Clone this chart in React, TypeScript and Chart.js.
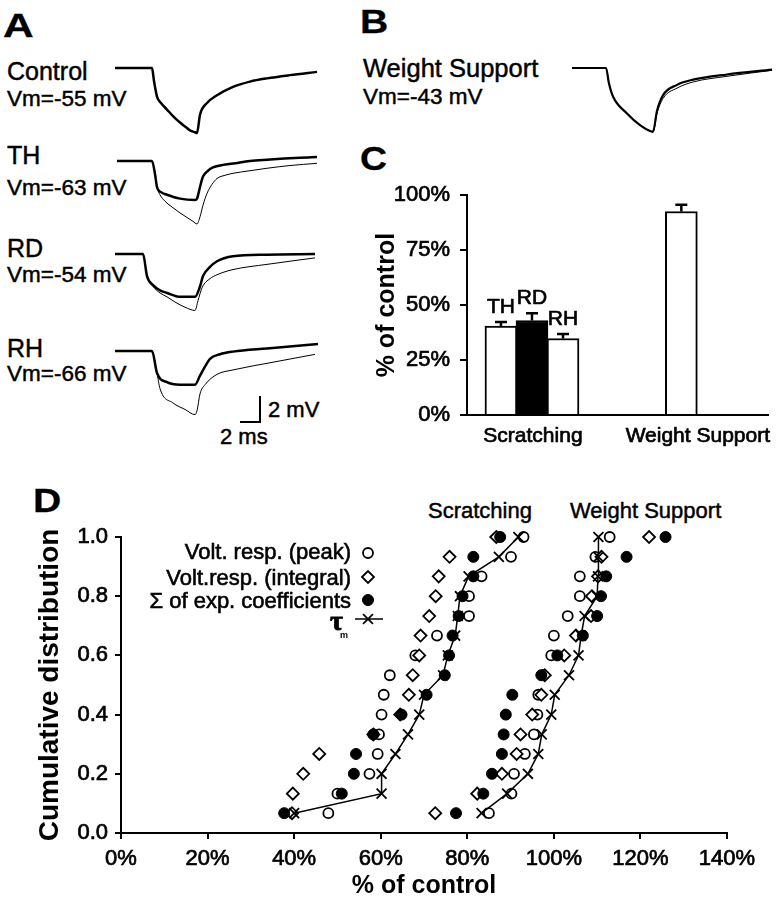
import React, { useEffect, useRef } from 'react';
import { Chart, registerables } from 'chart.js';

Chart.register(...registerables);

const SANS = '"Liberation Sans", Arial, Helvetica, sans-serif';

/* ---------------- A & B : voltage traces (time in ms, mV relative to baseline) ---------------- */
const controlMs = [0, 3.7, 3.9, 4.2, 4.6, 5.2, 5.8, 6.5, 7.0, 7.5, 8.0, 8.2, 8.5, 9.2, 10.2, 11.8, 13.5, 15.2, 17.5, 20.2];
const controlMv = [0, 0, -1.0, -2.2, -2.7, -3.2, -3.7, -4.2, -4.5, -4.8, -4.95, -5.0, -3.6, -2.7, -2.1, -1.45, -1.05, -0.8, -0.55, -0.3];

const thMs = [0, 3.5, 3.8, 4.0, 4.4, 5.0, 6.3, 7.8, 8.0, 8.3, 8.6, 9.1, 9.6, 10.6, 11.6, 13.3, 15.0, 18.3, 20.0];
const thMv = [0, 0, -1.0, -2.0, -2.4, -2.6, -2.9, -3.0, -2.9, -2.0, -1.2, -0.75, -0.5, -0.3, -0.2, 0, 0.1, 0.25, 0.3];
const thCtrlMs = [0, 3.5, 3.8, 4.0, 4.3, 4.8, 5.6, 6.3, 7.0, 7.6, 8.0, 8.3, 8.6, 9.0, 9.5, 10.0, 10.8, 11.6, 13.3, 15.0, 17.3, 20.0];
const thCtrlMv = [0, 0, -1.0, -2.0, -2.6, -3.1, -3.6, -4.0, -4.35, -4.65, -4.85, -4.3, -3.4, -2.5, -1.8, -1.35, -1.1, -0.95, -0.75, -0.56, -0.35, -0.18];

const rdMs = [0, 2.8, 3.2, 3.8, 4.5, 5.2, 6.5, 8.0, 8.5, 8.8, 9.5, 10.2, 11.8, 15.2, 20.0];
const rdMv = [0, 0, -1.7, -2.4, -2.8, -3.0, -3.3, -3.3, -2.5, -1.7, -1.0, -0.56, -0.18, -0.05, 0];
const rdCtrlMs = [0, 2.8, 3.2, 3.8, 4.5, 5.2, 6.0, 7.0, 8.0, 8.3, 8.7, 9.5, 10.2, 11.8, 15.2, 20.0];
const rdCtrlMv = [0, 0, -1.7, -2.5, -3.0, -3.3, -3.7, -4.1, -4.35, -3.6, -2.6, -1.9, -1.6, -1.2, -0.8, -0.3];

const rhMs = [0, 3.7, 4.2, 5.2, 6.5, 8.0, 8.5, 9.0, 9.5, 10.5, 11.8, 15.2, 20.3];
const rhMv = [0, 0, -1.7, -2.4, -2.6, -2.6, -1.9, -1.2, -0.6, -0.25, -0.05, 0.2, 0.54];
const rhCtrlMs = [0, 3.7, 4.2, 4.5, 5.8, 7.0, 8.0, 8.2, 8.5, 9.0, 10.2, 11.8, 15.2, 20.0];
const rhCtrlMv = [0, 0, -1.7, -2.9, -4.0, -4.5, -4.9, -4.6, -3.3, -2.6, -1.8, -1.46, -0.95, -0.26];

const wsMs = [0, 3.4, 3.7, 4.1, 5.5, 6.8, 7.8, 8.1, 8.5, 9.1, 10.5, 12.1, 15.5, 20.0];
const wsMv = [0, 0, -1.2, -2.2, -3.5, -4.4, -4.85, -4.9, -3.3, -2.1, -1.3, -0.9, -0.5, -0.13];
const wsCtrlMv = [0, 0, -1.2, -2.2, -3.5, -4.4, -4.85, -4.95, -3.5, -2.35, -1.55, -1.08, -0.64, -0.18];

const scaleBarMs = 2;
const scaleBarMv = 2;

/* ---------------- C : bar chart ---------------- */
const groups = ['Scratching', 'Weight Support'];
const barNames = ['TH', 'RD', 'RH', 'WS'];
const barGroup = [0, 0, 0, 1];
const barPercent = [40.4, 43.0, 34.8, 92.6];
const barSem = [1.9, 3.3, 2.1, 3.0];

/* ---------------- D : cumulative distributions ---------------- */
const cumLevels = [0.067, 0.133, 0.2, 0.267, 0.333, 0.4, 0.467, 0.533, 0.6, 0.667, 0.733, 0.8, 0.867, 0.933, 1.0];
const seriesNames = ['Volt. resp. (peak)', 'Volt.resp. (integral)', 'Σ of exp. coefficients', 'τm'];

const scrPeak = [47.9, 50.0, 57.4, 59.3, 59.6, 60.2, 60.7, 62.1, 68.0, 73.0, 80.4, 80.4, 83.3, 90.1, 93.0];
const scrInteg = [39.5, 39.7, 42.1, 45.8, 58.3, 64.5, 66.5, 67.4, 68.9, 69.2, 71.2, 72.7, 73.4, 75.9, 86.7];
const scrExp = [37.7, 51.0, 53.8, 54.3, 58.3, 64.8, 70.6, 74.8, 75.8, 76.6, 78.0, 78.9, 81.4, 81.4, 87.6];
const scrTau = [40.0, 60.2, 60.2, 63.4, 66.3, 68.9, 70.0, 74.4, 75.5, 77.2, 77.8, 78.3, 80.3, 87.3, 91.8];

const wsPeak = [85.0, 90.2, 90.8, 93.3, 95.4, 96.2, 96.4, 97.5, 99.4, 100.0, 103.2, 106.0, 106.0, 109.6, 112.9];
const wsInteg = [72.6, 82.3, 88.0, 91.4, 92.3, 95.0, 97.1, 97.9, 102.4, 105.1, 108.6, 108.8, 110.2, 111.0, 122.0];
const wsExp = [77.4, 83.7, 85.7, 88.0, 88.4, 88.9, 90.4, 97.1, 100.8, 106.7, 110.0, 110.9, 112.1, 116.8, 125.8];
const wsTau = [83.3, 89.2, 94.0, 96.4, 97.2, 99.4, 100.2, 103.5, 105.7, 106.3, 107.1, 110.0, 110.2, 110.3, 110.3];

/* ---------------- layout / style constants ---------------- */
const TRACE_T_MAX = 21;
const TRACE_V_MIN = -5.7;
const TRACE_V_MAX = 1;
const TRACE_W = 210;
const TRACE_H = 87;

const C_BOX = { left: 360, top: 172, width: 419, height: 283 };
const C_BAR_POS = [35, 67, 99, 221];
const C_GROUP_POS = [68, 238];
const C_AXIS_LEN = 311;

const D_BOX = { left: 0, top: 460, width: 779, height: 439 };

const TICK_STROKE = { textStrokeColor: '#000', textStrokeWidth: 0.7 };

const MARK = {
  open: { pointStyle: 'circle', radius: 5, fill: '#fff', border: 1.8 },
  diamond: { pointStyle: 'rectRot', radius: 6, fill: '#fff', border: 1.8 },
  filled: { pointStyle: 'circle', radius: 5.5, fill: '#000', border: 1 },
  cross: { pointStyle: 'crossRot', radius: 7, fill: '#000', border: 1.8 },
};

function pts(xs: number[], ys: number[]) {
  return xs.map((x, i) => ({ x, y: ys[i] }));
}

function heavyText(ctx: CanvasRenderingContext2D, text: string, x: number, y: number, w = 0.6) {
  ctx.fillText(text, x, y);
  ctx.lineWidth = w;
  ctx.strokeStyle = '#000';
  ctx.strokeText(text, x, y);
}

function traceConfig(traces: { t: number[]; v: number[]; w: number }[], plugins: any[] = []) {
  return {
    type: 'line',
    data: {
      datasets: traces.map((tr) => ({
        data: pts(tr.t, tr.v),
        borderColor: '#000',
        borderWidth: tr.w,
        pointRadius: 0,
        cubicInterpolationMode: 'monotone',
        fill: false,
        clip: false,
      })),
    },
    options: {
      animation: false,
      responsive: false,
      events: [],
      layout: { padding: 0 },
      scales: {
        x: { type: 'linear', min: 0, max: TRACE_T_MAX, display: false },
        y: { type: 'linear', min: TRACE_V_MIN, max: TRACE_V_MAX, display: false },
      },
      plugins: { legend: { display: false }, tooltip: { enabled: false } },
    },
    plugins,
  };
}

const scaleBarPlugin = {
  id: 'scaleBar',
  afterDatasetsDraw(chart: any) {
    const { ctx } = chart;
    const { x, y } = chart.scales;
    const t0 = 12.5;
    const v0 = -5.46;
    const x1 = x.getPixelForValue(t0);
    const x2 = x.getPixelForValue(t0 + scaleBarMs);
    const y1 = y.getPixelForValue(v0);
    const y2 = y.getPixelForValue(v0 + scaleBarMv);
    ctx.save();
    ctx.strokeStyle = '#000';
    ctx.lineWidth = 2;
    ctx.beginPath();
    ctx.moveTo(x1, y1);
    ctx.lineTo(x2, y1);
    ctx.lineTo(x2, y2);
    ctx.stroke();
    ctx.restore();
  },
};

const errorBarPlugin = {
  id: 'errorBars',
  afterDatasetsDraw(chart: any) {
    const { ctx } = chart;
    const y = chart.scales.y;
    const meta = chart.getDatasetMeta(0);
    ctx.save();
    ctx.strokeStyle = '#000';
    ctx.fillStyle = '#000';
    meta.data.forEach((bar: any, i: number) => {
      const top = y.getPixelForValue(barPercent[i] + barSem[i]);
      ctx.lineWidth = 2.5;
      ctx.beginPath();
      ctx.moveTo(bar.x, bar.y);
      ctx.lineTo(bar.x, top);
      ctx.moveTo(bar.x - 6, top);
      ctx.lineTo(bar.x + 6, top);
      ctx.stroke();
      if (barGroup[i] === 0) {
        ctx.font = `21px ${SANS}`;
        ctx.textAlign = 'center';
        ctx.textBaseline = 'alphabetic';
        heavyText(ctx, barNames[i], bar.x, top - 9, 0.7);
      }
    });
    ctx.restore();
  },
};

function drawMark(ctx: CanvasRenderingContext2D, kind: keyof typeof MARK, x: number, y: number) {
  const m = MARK[kind];
  ctx.save();
  ctx.strokeStyle = '#000';
  ctx.fillStyle = m.fill;
  ctx.lineWidth = m.border;
  ctx.beginPath();
  if (kind === 'open' || kind === 'filled') {
    ctx.arc(x, y, m.radius, 0, Math.PI * 2);
    ctx.fill();
    ctx.stroke();
  } else if (kind === 'diamond') {
    ctx.moveTo(x - m.radius, y);
    ctx.lineTo(x, y - m.radius);
    ctx.lineTo(x + m.radius, y);
    ctx.lineTo(x, y + m.radius);
    ctx.closePath();
    ctx.fill();
    ctx.stroke();
  } else {
    const o = m.radius * Math.SQRT1_2;
    ctx.moveTo(x - o, y - o);
    ctx.lineTo(x + o, y + o);
    ctx.moveTo(x + o, y - o);
    ctx.lineTo(x - o, y + o);
    ctx.stroke();
  }
  ctx.restore();
}

const legendPlugin = {
  id: 'dLegend',
  afterDraw(chart: any) {
    const ctx: CanvasRenderingContext2D = chart.ctx;
    const textRight = 351;
    const markX = 368;
    const kinds: (keyof typeof MARK)[] = ['open', 'diamond', 'filled'];
    const baselines = [99, 125, 148];
    const markYs = [93, 117, 140];
    ctx.save();
    ctx.fillStyle = '#000';
    ctx.font = `22px ${SANS}`;
    ctx.textAlign = 'right';
    ctx.textBaseline = 'alphabetic';
    for (let i = 0; i < 3; i++) {
      heavyText(ctx, seriesNames[i], textRight, baselines[i]);
      drawMark(ctx, kinds[i], markX, markYs[i]);
    }
    const tau = seriesNames[3];
    ctx.font = `bold 28px "Liberation Serif", "DejaVu Serif", serif`;
    heavyText(ctx, tau.slice(0, 1), 343, 170, 0.8);
    ctx.font = `bold 9px ${SANS}`;
    ctx.textAlign = 'left';
    ctx.fillText(tau.slice(1), 340, 178);
    ctx.strokeStyle = '#000';
    ctx.lineWidth = 1.5;
    ctx.beginPath();
    ctx.moveTo(355, 159);
    ctx.lineTo(383, 159);
    ctx.stroke();
    drawMark(ctx, 'cross', markX, 159);
    ctx.restore();
  },
};

function scatterSet(xs: number[], kind: keyof typeof MARK, line = false) {
  const m = MARK[kind];
  return {
    data: pts(xs, cumLevels),
    pointStyle: m.pointStyle,
    pointRadius: m.radius,
    pointBackgroundColor: m.fill,
    pointBorderColor: '#000',
    pointBorderWidth: m.border,
    showLine: line,
    borderColor: '#000',
    borderWidth: 1.5,
    backgroundColor: m.fill,
    clip: false,
  };
}

function ChartBox({ left, top, width, height, make }: { left: number; top: number; width: number; height: number; make: () => any }) {
  const ref = useRef<HTMLCanvasElement>(null);
  useEffect(() => {
    const chart = new Chart(ref.current as HTMLCanvasElement, make());
    return () => chart.destroy();
  }, []);
  return <canvas ref={ref} width={width} height={height} style={{ position: 'absolute', left, top, width, height }} />;
}

function Txt({ x, base, size, text, sx = 1, stroke = 0.45, bold = false }: { x: number; base: number; size: number; text: string; sx?: number; stroke?: number; bold?: boolean }) {
  return (
    <div
      style={{
        position: 'absolute',
        left: x,
        top: base - 0.8465 * size,
        fontSize: size,
        lineHeight: `${size}px`,
        fontFamily: SANS,
        fontWeight: bold ? 700 : 400,
        whiteSpace: 'nowrap',
        color: '#000',
        transform: sx !== 1 ? `scaleX(${sx})` : undefined,
        transformOrigin: 'left top',
        WebkitTextStroke: `${stroke}px #000`,
      }}
    >
      {text}
    </div>
  );
}

export default function App() {
  useEffect(() => {
    document.body.style.margin = '0';
  }, []);

  const traceBoxes = [
    { left: 115, top: 55, traces: [{ t: controlMs, v: controlMv, w: 2.5 }], plugins: [] },
    { left: 117, top: 148, traces: [{ t: thMs, v: thMv, w: 2.5 }, { t: thCtrlMs, v: thCtrlMv, w: 1 }], plugins: [] },
    { left: 115, top: 241, traces: [{ t: rdMs, v: rdMv, w: 2.5 }, { t: rdCtrlMs, v: rdCtrlMv, w: 1 }], plugins: [] },
    { left: 115, top: 338, traces: [{ t: rhMs, v: rhMv, w: 2.5 }, { t: rhCtrlMs, v: rhCtrlMv, w: 1 }], plugins: [scaleBarPlugin] },
    { left: 572, top: 55, traces: [{ t: wsMs, v: wsMv, w: 2.2 }, { t: wsMs, v: wsCtrlMv, w: 1 }], plugins: [] },
  ];

  const makeBar = () => ({
    type: 'bar',
    data: {
      datasets: [
        {
          data: pts(C_BAR_POS, barPercent),
          backgroundColor: barNames.map((n) => (n === 'RD' ? '#000' : '#fff')),
          borderColor: '#000',
          borderWidth: 2,
          barThickness: 32,
        },
      ],
    },
    options: {
      animation: false,
      responsive: false,
      events: [],
      layout: { padding: { top: 20, right: 0, left: 0, bottom: 0 } },
      plugins: { legend: { display: false }, tooltip: { enabled: false } },
      scales: {
        x: {
          type: 'linear',
          min: 0,
          max: C_AXIS_LEN,
          offset: false,
          grid: { display: false, drawTicks: false, offset: false },
          border: { display: true, color: '#000', width: 2 },
          afterBuildTicks: (s: any) => {
            s.ticks = C_GROUP_POS.map((v) => ({ value: v }));
          },
          ticks: {
            autoSkip: false,
            maxRotation: 0,
            padding: 9,
            color: '#000',
            ...TICK_STROKE,
            font: { family: SANS, size: 21 },
            callback: (_v: any, i: number) => groups[i],
          },
          afterFit: (s: any) => {
            s.height = 40;
          },
        },
        y: {
          min: 0,
          max: 100,
          grid: { display: true, drawOnChartArea: false, drawTicks: true, tickLength: 7, color: '#000', lineWidth: 2 },
          border: { display: true, color: '#000', width: 2 },
          ticks: { stepSize: 25, padding: 10, color: '#000', ...TICK_STROKE, font: { family: SANS, size: 22 }, callback: (v: any) => `${v}%` },
          title: { display: true, text: '% of control', color: '#000', font: { family: SANS, size: 25, weight: 'bold', lineHeight: 1.2 }, padding: { top: 12, bottom: 0 } },
          afterFit: (s: any) => {
            s.width = 107;
          },
        },
      },
    },
    plugins: [errorBarPlugin],
  });

  const makeScatter = () => ({
    type: 'scatter',
    data: {
      datasets: [
        scatterSet(scrTau, 'cross', true),
        scatterSet(wsTau, 'cross', true),
        scatterSet(scrExp, 'filled'),
        scatterSet(wsExp, 'filled'),
        scatterSet(scrInteg, 'diamond'),
        scatterSet(wsInteg, 'diamond'),
        scatterSet(scrPeak, 'open'),
        scatterSet(wsPeak, 'open'),
      ],
    },
    options: {
      animation: false,
      responsive: false,
      events: [],
      layout: { padding: { top: 77, right: 52, left: 0, bottom: 0 } },
      plugins: { legend: { display: false }, tooltip: { enabled: false } },
      scales: {
        x: {
          type: 'linear',
          min: 0,
          max: 140,
          grid: { display: true, drawOnChartArea: false, drawTicks: true, tickLength: 6, color: '#000', lineWidth: 2 },
          border: { display: true, color: '#000', width: 2 },
          ticks: { stepSize: 20, autoSkip: false, maxRotation: 0, padding: 7, color: '#000', ...TICK_STROKE, font: { family: SANS, size: 22 }, callback: (v: any) => `${v}%` },
          title: { display: true, text: '% of control', color: '#000', font: { family: SANS, size: 25, weight: 'bold', lineHeight: 1 }, padding: 0 },
          afterFit: (s: any) => {
            s.height = 66;
          },
        },
        y: {
          type: 'linear',
          min: 0,
          max: 1,
          grid: { display: true, drawOnChartArea: false, drawTicks: true, tickLength: 6, color: '#000', lineWidth: 2 },
          border: { display: true, color: '#000', width: 2 },
          ticks: { stepSize: 0.2, padding: 7, color: '#000', ...TICK_STROKE, font: { family: SANS, size: 22 }, callback: (v: any) => Number(v).toFixed(1) },
          title: { display: true, text: 'Cumulative distribution', color: '#000', font: { family: SANS, size: 28, weight: 'bold', lineHeight: 1.2 }, padding: { top: 33, bottom: 0 } },
          afterFit: (s: any) => {
            s.width = 121;
          },
        },
      },
    },
    plugins: [legendPlugin],
  });

  return (
    <div style={{ position: 'fixed', left: 0, top: 0, width: 779, height: 899, background: '#fff', overflow: 'hidden' }}>
      <Txt x={3} base={37} size={34} text="A" sx={1.25} bold stroke={0.3} />
      <Txt x={360} base={33} size={34} text="B" sx={1.15} bold stroke={0.3} />
      <Txt x={360} base={170} size={34} text="C" sx={1.1} bold stroke={0.3} />
      <Txt x={33} base={512} size={34} text="D" sx={1.15} bold stroke={0.3} />

      <Txt x={7} base={80} size={25} text="Control" />
      <Txt x={7} base={107} size={22.5} text="Vm=-55 mV" />
      <Txt x={7} base={164} size={25} text="TH" />
      <Txt x={7} base={196} size={22.5} text="Vm=-63 mV" />
      <Txt x={7} base={257} size={25} text="RD" />
      <Txt x={7} base={283} size={22.5} text="Vm=-54 mV" />
      <Txt x={7} base={357} size={25} text="RH" />
      <Txt x={7} base={382} size={22.5} text="Vm=-66 mV" />
      <Txt x={268} base={418} size={22} text={`${scaleBarMv} mV`} />
      <Txt x={220} base={445} size={22} text={`${scaleBarMs} ms`} />

      <Txt x={363} base={78} size={25.5} text="Weight Support" />
      <Txt x={363} base={105} size={22.5} text="Vm=-43 mV" />

      <Txt x={428} base={519} size={22} text={groups[0]} />
      <Txt x={570} base={519} size={22} text={groups[1]} />

      {traceBoxes.map((b, i) => (
        <ChartBox key={i} left={b.left} top={b.top} width={TRACE_W} height={TRACE_H} make={() => traceConfig(b.traces, b.plugins)} />
      ))}
      <ChartBox left={C_BOX.left} top={C_BOX.top} width={C_BOX.width} height={C_BOX.height} make={makeBar} />
      <ChartBox left={D_BOX.left} top={D_BOX.top} width={D_BOX.width} height={D_BOX.height} make={makeScatter} />
    </div>
  );
}
